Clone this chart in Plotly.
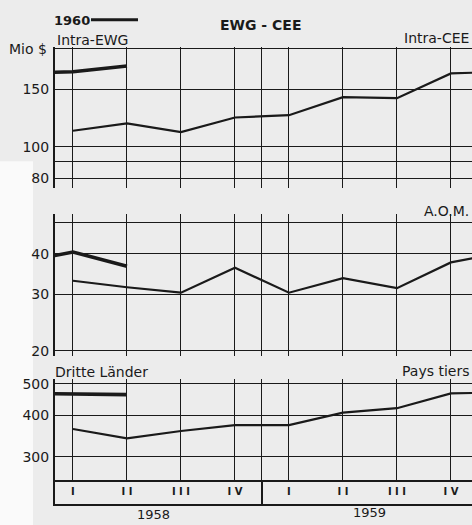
import plotly.graph_objects as go

# --- data (Mio $, quarterly) ---
quarters = [0, 1, 2, 3, 4, 5, 6, 7, 8]          # 1958 I .. 1959 IV, 1960 I
quarter_labels = ["I", "I I", "I I I", "I V", "I", "I I", "I I I", "I V"]
years = ["1958", "1959"]
year_pos = [1.5, 5.5]
x_1960 = [-1, 0, 1]                              # 1959 IV, 1960 I, 1960 II

intra_5859 = [112, 118, 111, 123, 125, 142, 141, 168, 170]
intra_1960 = [168, 170, 177]
aom_5859 = [33.0, 31.5, 30.3, 36.2, 30.3, 33.6, 31.3, 37.6, 40.5]
aom_1960 = [37.6, 40.5, 36.6]
tiers_5859 = [364, 341, 359, 374, 374, 408, 421, 467, 470]
tiers_1960 = [467, 465, 463]

W, H, L = 472, 525, 55
INK = "#1a1a1a"
BG = "#ececec"
FONT = "DejaVu Sans"


def px(x):
    return (x - L) / (W - L)


def py(y):
    return (H - y) / H


fig = go.Figure()

panels = [
    (intra_5859, intra_1960, ""),
    (aom_5859, aom_1960, "2"),
    (tiers_5859, tiers_1960, "3"),
]
for thin, thick, n in panels:
    fig.add_trace(go.Scatter(x=quarters, y=thin, mode="lines", xaxis="x" + n, yaxis="y" + n,
                             line=dict(color=INK, width=2.2), showlegend=False, hoverinfo="skip"))
    fig.add_trace(go.Scatter(x=x_1960, y=thick, mode="lines", xaxis="x" + n, yaxis="y" + n,
                             line=dict(color=INK, width=3.6), showlegend=False, hoverinfo="skip"))

# quarter labels in the band under the last panel
fig.add_trace(go.Scatter(x=quarters[:8], y=[0.5] * 8, mode="text",
                         text=[f"<b>{q}</b>" for q in quarter_labels],
                         xaxis="x4", yaxis="y4", showlegend=False, hoverinfo="skip",
                         textfont=dict(family=FONT, size=10, color=INK)))

xr = [-0.333, 7.39]
grid_x = quarters[:8] + [3.5]
xcommon = dict(range=xr, tickvals=grid_x, showticklabels=False, ticks="",
               showgrid=True, gridcolor=INK, gridwidth=1.4, zeroline=False)
ycommon = dict(type="log", showgrid=True, gridcolor=INK, gridwidth=1.4, ticks="",
               showline=True, linecolor=INK, linewidth=2, zeroline=False,
               tickfont=dict(family=FONT, size=14, color=INK), ticklabelstandoff=1)

fig.update_layout(
    width=W, height=H,
    margin=dict(l=L, r=0, t=0, b=0),
    paper_bgcolor=BG, plot_bgcolor=BG,
    xaxis=dict(xcommon, anchor="y", domain=[0, 1]),
    xaxis2=dict(xcommon, anchor="y2", domain=[0, 1]),
    xaxis3=dict(xcommon, anchor="y3", domain=[0, 1], showline=True, linecolor=INK, linewidth=1.6),
    xaxis4=dict(range=xr, tickvals=[3.5], showticklabels=False, ticks="", showgrid=True,
                gridcolor=INK, gridwidth=1.6, zeroline=False, anchor="y4", domain=[0, 1],
                showline=True, linecolor=INK, linewidth=1.6),
    yaxis=dict(ycommon, anchor="x", domain=[py(187), py(45)], range=[1.8737, 2.305],
               tickvals=[80, 90, 100, 150, 200], ticktext=["80", "", "100", "150", ""]),
    yaxis2=dict(ycommon, anchor="x2", domain=[py(357), py(213)], range=[1.2858, 1.7264],
                tickvals=[20, 30, 40, 50], ticktext=["20", "30", "40", ""]),
    yaxis3=dict(ycommon, anchor="x3", domain=[py(483), py(380)], range=[2.405, 2.714],
                tickvals=[300, 400, 500], ticktext=["300", "400", "500"]),
    yaxis4=dict(range=[0, 1], showgrid=False, showticklabels=False, ticks="", zeroline=False,
                showline=True, linecolor=INK, linewidth=2, anchor="x4",
                domain=[py(507), py(483)]),
)

# whiter margin of the scanned page
fig.add_shape(type="rect", xref="paper", yref="paper", x0=px(0), x1=px(33), y0=py(530), y1=py(160),
              fillcolor="#fafafa", line_width=0, layer="below")
# legend stroke for 1960
fig.add_shape(type="line", xref="paper", yref="paper", x0=px(91), x1=px(138), y0=py(17), y1=py(17),
              line=dict(color=INK, width=3))

texts = [
    ("1960", 52, 18, "left", 13, True),
    ("EWG - CEE", 260, 22, "center", 14, True),
    ("Intra-EWG", 55, 37, "left", 14, False),
    ("Mio $", 7, 47, "left", 14, False),
    ("Intra-CEE", 471, 35, "right", 14, False),
    ("A.O.M.", 471, 210, "right", 14, False),
    ("Dritte Länder", 53, 373, "left", 14, False),
    ("Pays tiers", 471, 372, "right", 14, False),
]
for t, x, y, anchor, size, bold in texts:
    fig.add_annotation(text=f"<b>{t}</b>" if bold else t, xref="paper", yref="paper",
                       x=px(x), y=py(y), xanchor=anchor, yanchor="middle", showarrow=False,
                       font=dict(family=FONT, size=size, color=INK))

for yr, xp, ypx in zip(years, year_pos, [517, 515]):
    fig.add_annotation(text=yr, xref="x4", yref="paper", x=xp, y=py(ypx), xanchor="center",
                       yanchor="middle", showarrow=False, font=dict(family=FONT, size=13, color=INK))

# drop the browser's default 8px body margin so the page is exactly the figure
fig.write_html("out.html", config={"displayModeBar": False},
               post_script="document.body.style.margin = '0';")
